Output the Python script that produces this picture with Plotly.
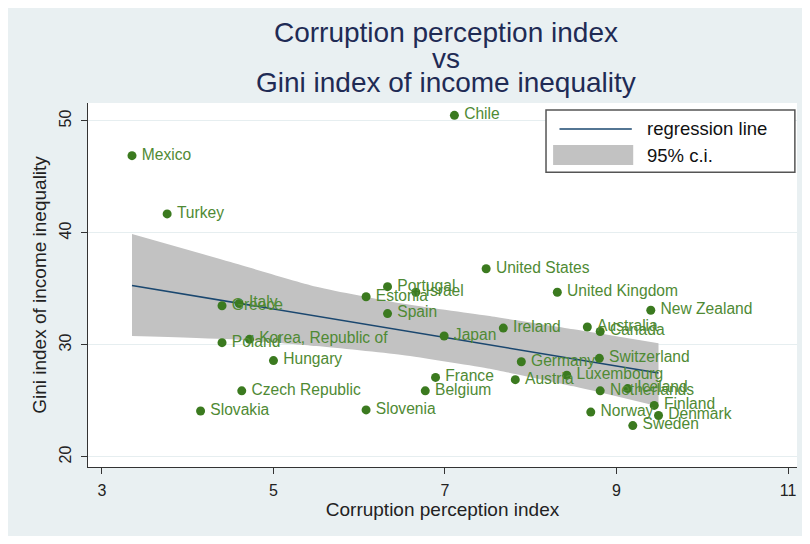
import plotly.graph_objects as go

countries = ["Mexico", "Turkey", "Greece", "Italy", "Poland", "Korea, Republic of",
             "Hungary", "Czech Republic", "Slovakia", "Estonia", "Portugal", "Israel",
             "Spain", "Slovenia", "Japan", "France", "Belgium", "Chile", "United States",
             "Ireland", "Germany", "Austria", "United Kingdom", "Luxembourg", "Australia",
             "Canada", "Switzerland", "Netherlands", "Iceland", "Norway", "Sweden",
             "Finland", "Denmark", "New Zealand"]
cpi = [3.35, 3.76, 4.40, 4.60, 4.40, 4.72,
       5.00, 4.63, 4.15, 6.08, 6.33, 6.66,
       6.33, 6.08, 6.99, 6.89, 6.77, 7.11, 7.48,
       7.68, 7.89, 7.82, 8.31, 8.42, 8.66,
       8.81, 8.80, 8.81, 9.13, 8.70, 9.19,
       9.44, 9.49, 9.40]
gini = [46.9, 41.7, 33.5, 33.7, 30.2, 30.5,
        28.6, 25.9, 24.1, 34.3, 35.2, 34.7,
        32.8, 24.2, 30.8, 27.1, 25.9, 50.5, 36.8,
        31.5, 28.5, 26.9, 34.7, 27.3, 31.6,
        31.2, 28.8, 25.9, 26.1, 24.0, 22.8,
        24.6, 23.7, 33.1]

# regression line and its 95% confidence band
fit_x = [3.35, 9.49]
fit_y = [35.3, 27.5]
band_x = [3.35, 4.5, 5.5, 6.5, 7.5, 8.5, 9.49]
band_hi = [39.9, 37.4, 35.2, 33.7, 32.6, 31.4, 30.15]
band_lo = [30.8, 30.5, 29.9, 29.1, 27.9, 26.3, 24.5]

x_ticks = [3, 5, 7, 9, 11]
y_ticks = [20, 30, 40, 50]

BG = "#e9f0f2"
GREEN = "#3b7a1f"
LABEL = "#4f8a34"
NAVY = "#1a476f"
GRAY = "#c2c2c2"
FONT = "Liberation Sans, Arial, sans-serif"

fig = go.Figure()
fig.add_trace(go.Scatter(
    x=band_x, y=band_lo, mode="lines",
    line=dict(width=0, shape="spline", smoothing=0.6),
    hoverinfo="skip", showlegend=False))
fig.add_trace(go.Scatter(
    x=band_x, y=band_hi, mode="lines", fill="tonexty", fillcolor=GRAY,
    line=dict(width=0, shape="spline", smoothing=0.6),
    hoverinfo="skip", showlegend=False))
fig.add_trace(go.Scatter(
    x=fit_x, y=fit_y, mode="lines", line=dict(color=NAVY, width=1.6),
    showlegend=False))
fig.add_trace(go.Scatter(
    x=cpi, y=gini, mode="markers+text", text=countries,
    texttemplate="\u2009%{text}",
    textposition="middle right",
    textfont=dict(family=FONT, size=15.6, color=LABEL),
    marker=dict(color=GREEN, size=9), showlegend=False))

# title lines (tight Stata-like line spacing)
title_lines = ["Corruption perception index", "vs", "Gini index of income inequality"]
title_y = [1.195, 1.1236, 1.055]
for t, yy in zip(title_lines, title_y):
    fig.add_annotation(text=t, x=0.505, y=yy, xref="paper", yref="paper",
                       xanchor="center", yanchor="middle", showarrow=False,
                       font=dict(family=FONT, size=28, color="#1f2b55"))

# legend box (drawn like Stata's)
fig.add_shape(type="rect", xref="paper", yref="paper", x0=0.646, x1=0.997,
              y0=0.810, y1=0.981, line=dict(color="#555555", width=1.5),
              fillcolor="white", layer="above")
fig.add_shape(type="line", xref="paper", yref="paper", x0=0.665, x1=0.767,
              y0=0.9286, y1=0.9286, line=dict(color=NAVY, width=1.6), layer="above")
fig.add_shape(type="rect", xref="paper", yref="paper", x0=0.656, x1=0.769,
              y0=0.8297, y1=0.8846, line=dict(width=0), fillcolor=GRAY, layer="above")
for t, yy in [("regression line", 0.9286), ("95% c.i.", 0.857)]:
    fig.add_annotation(text=t, x=0.7856, y=yy, xref="paper", yref="paper",
                       xanchor="left", yanchor="middle", showarrow=False,
                       font=dict(family=FONT, size=18.5, color="#111111"))

fig.update_layout(
    width=796, height=528,
    margin=dict(l=80, r=7, t=95, b=69),
    paper_bgcolor=BG, plot_bgcolor="white",
    font=dict(family=FONT, color="#222222"),
    showlegend=False,
    xaxis=dict(range=[2.837, 11.105], tickvals=x_ticks, ticks="outside", ticklen=6,
               tickcolor="#333333", showgrid=False, zeroline=False,
               showline=True, linecolor="#333333", linewidth=1.2,
               ticklabelstandoff=3,
               tickfont=dict(size=16, color="#222222"),
               title=dict(text="Corruption perception index", standoff=3,
                          font=dict(size=19, color="#222222"))),
    yaxis=dict(range=[19.1, 51.6], tickvals=y_ticks, ticks="outside", ticklen=6,
               tickcolor="#333333", tickangle=-90, showgrid=True,
               gridcolor="#e6eef0", gridwidth=1, zeroline=False,
               showline=True, linecolor="#333333", linewidth=1.2,
               ticklabelstandoff=4,
               tickfont=dict(size=16, color="#222222"),
               title=dict(text="Gini index of income inequality", standoff=4,
                          font=dict(size=19, color="#222222"))),
)

fig.write_html("out.html")
